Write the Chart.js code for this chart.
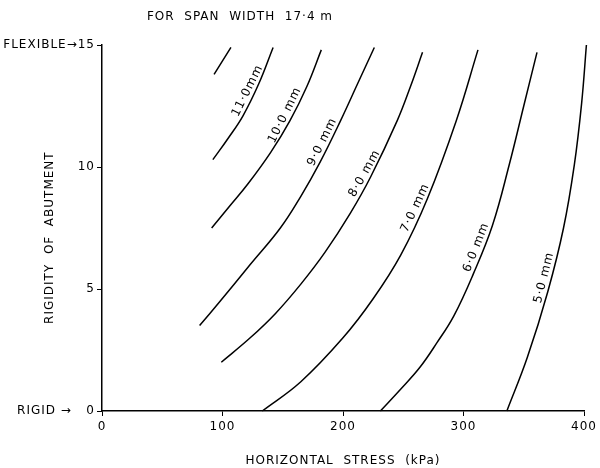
<!DOCTYPE html>
<html>
<head>
<meta charset="utf-8">
<script src="https://cdn.jsdelivr.net/npm/chart.js@4"></script>
<style>
  body { margin: 0; background: #fff; }
  #wrap { width: 600px; height: 468px; }
</style>
</head>
<body>
<div id="wrap"><canvas id="spanChart"></canvas></div>
<script>
// horizontal stress (kPa) / rigidity of abutment, one pair per deflection curve
const stress12 = [93, 100, 107];
const rigidity12 = [13.8, 14.35, 14.9];
const stress11 = [92, 105, 117, 130, 142];
const rigidity11 = [10.3, 11.2, 12.1, 13.4, 14.9];
const stress10 = [91, 106, 121, 140, 156, 170, 182];
const rigidity10 = [7.5, 8.4, 9.3, 10.6, 11.9, 13.3, 14.8];
const stress9 = [81, 98, 123, 148, 165, 181, 198, 212, 226];
const rigidity9 = [3.5, 4.5, 6.0, 7.5, 8.8, 10.2, 11.9, 13.4, 14.9];
const stress8 = [99, 123, 144, 165, 185, 206, 223, 245, 256, 266];
const rigidity8 = [2.0, 3.0, 4.0, 5.2, 6.5, 8.1, 9.6, 11.9, 13.3, 14.7];
const stress7 = [133, 165, 200, 225, 248, 270, 294, 312];
const rigidity7 = [0, 1.2, 3.0, 4.6, 6.4, 8.7, 11.9, 14.8];
const stress6 = [231, 248, 264, 278, 292, 308, 324, 338, 350, 361];
const rigidity6 = [0, 0.9, 1.8, 2.8, 3.9, 5.6, 7.6, 10.1, 12.5, 14.7];
const stress5 = [336, 353, 370, 383, 392, 398, 402];
const rigidity5 = [0, 2.2, 4.9, 7.5, 10.1, 12.6, 15.0];

const curveLabels = ["", "11·0mm", "10·0 mm", "9·0 mm", "8·0 mm", "7·0 mm", "6·0 mm", "5·0 mm"];
const labelAt = [null, 13.0, 12.0, 10.9, 9.6, 8.2, 6.6, 5.4];
const xTicks = [0, 100, 200, 300, 400];
const yTicks = [0, 5, 10, 15];

const FONT = "'DejaVu Sans', sans-serif";

const curves = [
    [stress12, rigidity12], [stress11, rigidity11], [stress10, rigidity10], [stress9, rigidity9],
    [stress8, rigidity8], [stress7, rigidity7], [stress6, rigidity6], [stress5, rigidity5]
];

const datasets = curves.map((c, i) => ({
    label: curveLabels[i] || "12·0 mm",
    data: c[0].map((x, j) => ({ x: x, y: c[1][j] })),
    borderColor: "#000",
    borderWidth: 1.5,
    pointRadius: 0,
    tension: 0.4,
    clip: false
}));

// writes each curve's value along the curve, rotated to its slope
const curveText = {
    id: "curveText",
    afterDatasetsDraw(chart) {
        const ctx = chart.ctx;
        const xs = chart.scales.x, ys = chart.scales.y;
        ctx.save();
        ctx.font = "12px " + FONT;
        ctx.letterSpacing = "1px";
        ctx.fillStyle = "#000";
        ctx.textAlign = "center";
        ctx.textBaseline = "bottom";
        curves.forEach((c, i) => {
            if (!curveLabels[i]) return;
            const yv = labelAt[i];
            const px = c[0], py = c[1];
            for (let j = 0; j < py.length - 1; j++) {
                if (yv >= py[j] && yv <= py[j + 1]) {
                    const t = (yv - py[j]) / (py[j + 1] - py[j]);
                    const xv = px[j] + t * (px[j + 1] - px[j]);
                    const ang = Math.atan2(ys.getPixelForValue(py[j + 1]) - ys.getPixelForValue(py[j]),
                        xs.getPixelForValue(px[j + 1]) - xs.getPixelForValue(px[j]));
                    ctx.save();
                    ctx.translate(xs.getPixelForValue(xv), ys.getPixelForValue(yv));
                    ctx.rotate(ang);
                    ctx.fillText(curveLabels[i], 0, -1);
                    ctx.restore();
                    break;
                }
            }
        });
        ctx.restore();
    }
};

const topTitle = {
    id: "topTitle",
    beforeDraw(chart) {
        chart.ctx.letterSpacing = "1px";
    },
    afterDraw(chart) {
        const ctx = chart.ctx;
        ctx.save();
        ctx.font = "12px " + FONT;
        ctx.letterSpacing = "1px";
        ctx.fillStyle = "#000";
        ctx.textAlign = "center";
        ctx.textBaseline = "middle";
        ctx.fillText("FOR  SPAN  WIDTH  17·4 m", 240, 17);
        ctx.restore();
    }
};

new Chart(document.getElementById("spanChart"), {
    type: "line",
    data: { datasets: datasets },
    plugins: [curveText, topTitle],
    options: {
        responsive: true,
        maintainAspectRatio: false,
        animation: false,
        layout: { padding: { top: 45, right: 16, bottom: 0, left: 0 } },
        plugins: {
            legend: { display: false },
            tooltip: { enabled: false }
        },
        scales: {
            x: {
                type: "linear",
                min: 0,
                max: 400,
                afterBuildTicks: s => { s.ticks = xTicks.map(v => ({ value: v })); },
                afterFit: s => { s.height = 57; },
                border: { display: true, color: "#000", width: 1.5 },
                grid: { drawOnChartArea: false, drawTicks: true, tickLength: 5, color: "#000" },
                ticks: { color: "#000", padding: 4, font: { family: FONT, size: 12 } },
                title: {
                    display: true,
                    text: "HORIZONTAL  STRESS  (kPa)",
                    color: "#000",
                    padding: { top: 0, bottom: 0 },
                    font: { family: FONT, size: 12 }
                }
            },
            y: {
                type: "linear",
                min: 0,
                max: 15,
                afterBuildTicks: s => { s.ticks = yTicks.map(v => ({ value: v })); },
                afterFit: s => { s.width = 102; },
                border: { display: true, color: "#000", width: 1.5 },
                grid: { drawOnChartArea: false, drawTicks: true, tickLength: 5, color: "#000" },
                ticks: {
                    color: "#000",
                    padding: 2,
                    font: { family: FONT, size: 12 },
                    callback: v => v === 15 ? "FLEXIBLE→15" : (v === 0 ? "RIGID →   0" : String(v))
                },
                title: {
                    display: true,
                    text: "RIGIDITY  OF  ABUTMENT    ",
                    color: "#000",
                    padding: { top: 43, bottom: 0 },
                    font: { family: FONT, size: 12 }
                }
            }
        }
    }
});
</script>
</body>
</html>
